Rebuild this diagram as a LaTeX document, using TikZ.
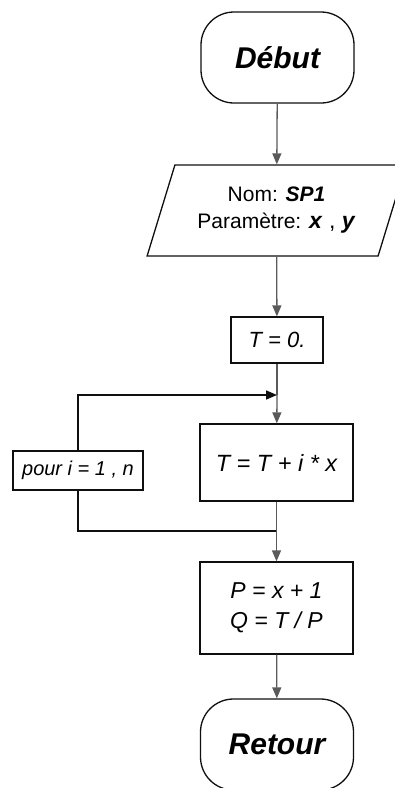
\documentclass[tikz,border=0pt]{standalone}
\usepackage{fontspec}
\setmainfont{Liberation Sans}
\usetikzlibrary{arrows.meta,shapes.geometric}
\definecolor{ink}{RGB}{15,15,15}
\definecolor{wire}{RGB}{90,90,90}
\tikzset{
  >={Triangle[length=11pt,width=9pt]},
  terminal/.style={draw=ink,line width=1.3pt,rounded corners=33pt,minimum width=153pt,
    minimum height=91pt,font=\fontsize{30}{32}\selectfont\bfseries\itshape},
  proc/.style={draw=ink,line width=1.3pt,align=center,inner sep=0pt,
    font=\fontsize{23}{30}\selectfont\itshape},
  io/.style={trapezium,trapezium left angle=67,trapezium right angle=113,
    trapezium stretches=true,draw=ink,line width=1.3pt,minimum width=259pt,
    minimum height=91pt,align=center,font=\fontsize{21}{27}\selectfont},
  flow/.style={->,line width=1.3pt,draw=wire},
  loopline/.style={line width=1.6pt,draw=ink},
}
\newcommand{\bi}[1]{\textbf{\textit{#1}}}

\begin{document}
\begin{tikzpicture}[x=1pt,y=-1pt]
  \useasboundingbox (0,0) rectangle (395,788);
  \clip (0,0) rectangle (395,788);
  \node[terminal] (debut) at (277.5,57.5) {Début};
  \node[io] (param) at (276.5,210.5) {Nom: \bi{SP1}\\Paramètre: {\fontsize{23}{27}\selectfont\bi{x} , \bi{y}}};
  \node[proc,minimum width=92pt,minimum height=46pt,font=\fontsize{22}{24}\selectfont\itshape] (tinit) at (277,340) {T = 0.};
  \node[proc,minimum width=153pt,minimum height=77pt,font=\fontsize{23.5}{24}\selectfont\itshape] (corps) at (276.5,462.5) {T = T + i * x};
  \node[proc,minimum width=130pt,minimum height=39pt,font=\fontsize{20}{22}\selectfont\itshape] (boucle) at (78,470.5) {pour i = 1 , n};
  \node[proc,minimum width=153pt,minimum height=92pt] (calcul) at (276.5,608) {P = x + 1\\Q = T / P};
  \node[terminal] (retour) at (277,744.5) {Retour};
  \coordinate (entree) at (277,395);
  \coordinate (sortie) at (277,531);

  \draw[flow] (debut) -- (param);
  \draw[flow] (param) -- (tinit);
  \draw[wire,line width=1.3pt] (tinit) -- (entree);
  \draw[flow] (entree) -- (corps);
  \draw[loopline,->] (boucle.north) |- (entree);
  \draw[loopline] (boucle.south) |- (sortie);
  \draw[flow] (corps) -- (calcul);
  \draw[flow] (calcul) -- (retour);
\end{tikzpicture}
\end{document}
